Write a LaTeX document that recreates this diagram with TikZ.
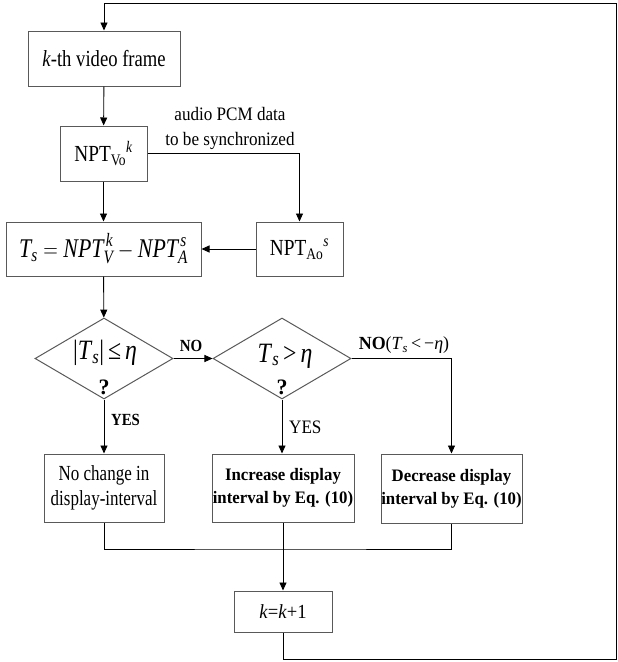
\documentclass[tikz,border=0pt]{standalone}
\usepackage{amsmath}
\usepackage{graphicx}
\usepackage{fontspec}
\setmainfont{Liberation Serif}
\usetikzlibrary{arrows.meta,shapes.geometric}
\newcommand{\vi}[1]{\text{\itshape #1}}
\newcommand{\cz}[2][0.84]{\scalebox{#1}[1]{#2}}
\begin{document}
\begin{tikzpicture}[x=1pt,y=-1pt,
  box/.style={draw=black!65, line width=1pt, inner sep=0pt, align=center},
  dia/.style={draw=black!65, line width=1pt, diamond, inner sep=0pt},
  conn/.style={draw=black, line width=0.9pt},
  arr/.style={conn, -{Triangle[length=8pt,width=7pt]}},
  txt/.style={font=\fontsize{23}{27}\selectfont},
  bsmall/.style={font=\bfseries\fontsize{17.5}{23}\selectfont},
  lab/.style={font=\bfseries\fontsize{17}{18}\selectfont, inner sep=0pt},
]
\useasboundingbox (0,0) rectangle (618,662);

\node[box, txt, minimum width=152pt, minimum height=55pt] (frame) at (104,58.5) {\cz[0.81]{\textit{k}-th video frame}};
\node[box, txt, minimum width=87pt, minimum height=55pt] (nptv) at (103.5,153.5) {\cz{NPT\textsubscript{Vo}\textsuperscript{\itshape k}}};
\node[box, font=\fontsize{27}{30}\selectfont, minimum width=195pt, minimum height=54pt] (ts) at (103.5,249) {\cz[0.81]{$\vi{T}_{\vi{s}} = \vi{NPT}^{\,\vi{k}}_{\vi{V}} - \vi{NPT}^{\,\vi{s}}_{\vi{A}}$}};
\node[box, txt, minimum width=87pt, minimum height=54pt] (npta) at (299.5,249) {\cz{NPT\textsubscript{Ao}\textsuperscript{\itshape s}}};
\node[font=\fontsize{19}{25}\selectfont, align=center, inner sep=0pt] (sync) at (230,128) {\cz[0.9]{audio PCM data}\\\cz[0.9]{to be synchronized}};

\node[dia, minimum width=138pt, minimum height=81pt] (d1) at (104,358.5) {};
\node[dia, minimum width=138pt, minimum height=81pt] (d2) at (282,358.5) {};
\node[font=\fontsize{28}{30}\selectfont, inner sep=0pt] (d1t) at (105,353) {\cz[0.85]{|\textit{T}\textsubscript{\itshape s}|\,≤\,\textit{η}}};
\node[font=\bfseries\fontsize{22}{24}\selectfont, inner sep=0pt] (d1q) at (104,387) {?};
\node[font=\fontsize{28}{30}\selectfont, inner sep=0pt] (d2t) at (285,356) {\cz[0.85]{\textit{T}\textsubscript{\itshape s}\,>\,\textit{η}}};
\node[font=\bfseries\fontsize{22}{24}\selectfont, inner sep=0pt] (d2q) at (282,387) {?};

\node[box, font=\fontsize{21.5}{25}\selectfont, minimum width=120pt, minimum height=68pt] (nochg) at (104,488) {\cz[0.79]{No change in}\\\cz[0.79]{display-interval}};
\node[box, bsmall, minimum width=142pt, minimum height=68pt] (inc) at (283,488) {\cz[0.96]{Increase display}\\\cz[0.96]{interval by Eq. (10)}};
\node[box, bsmall, minimum width=141pt, minimum height=69pt] (dec) at (451.5,488.5) {\cz[0.96]{Decrease display}\\\cz[0.96]{interval by Eq. (10)}};
\node[box, font=\fontsize{20}{24}\selectfont, minimum width=98pt, minimum height=41pt] (kk) at (283,611.5) {\cz[0.93]{\textit{k}=\textit{k}+1}};

\node[lab] (no1) at (191,346) {\cz[0.88]{NO}};
\node[font=\fontsize{18.5}{20}\selectfont, inner sep=0pt] (no2) at (404,345) {\cz[0.97]{\textbf{NO}(\textit{T}\textsubscript{\itshape s}\,<\,−\textit{η})}};
\node[lab, anchor=west] (yes1) at (111,420) {\cz[0.87]{YES}};
\node[font=\fontsize{19}{20}\selectfont, inner sep=0pt, anchor=west] (yes2) at (289,427) {\cz[0.9]{YES}};

\coordinate (merge) at (283,549);
\coordinate (lb) at (283,659);
\coordinate (rb) at (616,659);
\coordinate (rt) at (616,3);
\coordinate (lt) at (104,3);

\draw[arr] (frame) -- (nptv);
\draw[arr] (nptv) -- (ts);
\draw[arr] (nptv.east) -| (npta.north);
\draw[arr] (npta) -- (ts);
\draw[arr] (ts) -- (d1);
\draw[arr] (d1) -- (d2);
\draw[arr] (d1.south) -- (nochg.north);
\draw[arr] (d2.south) -- (d2.south |- inc.north);
\draw[arr] (d2.east) -| (dec.north);
\draw[conn] (nochg.south) |- (merge) -| (dec.south);
\draw[arr] (inc.south) -- (kk.north);
\draw[arr] (kk.south) -- (lb) -- (rb) -- (rt) -- (lt) -- (frame.north);
\end{tikzpicture}
\end{document}
